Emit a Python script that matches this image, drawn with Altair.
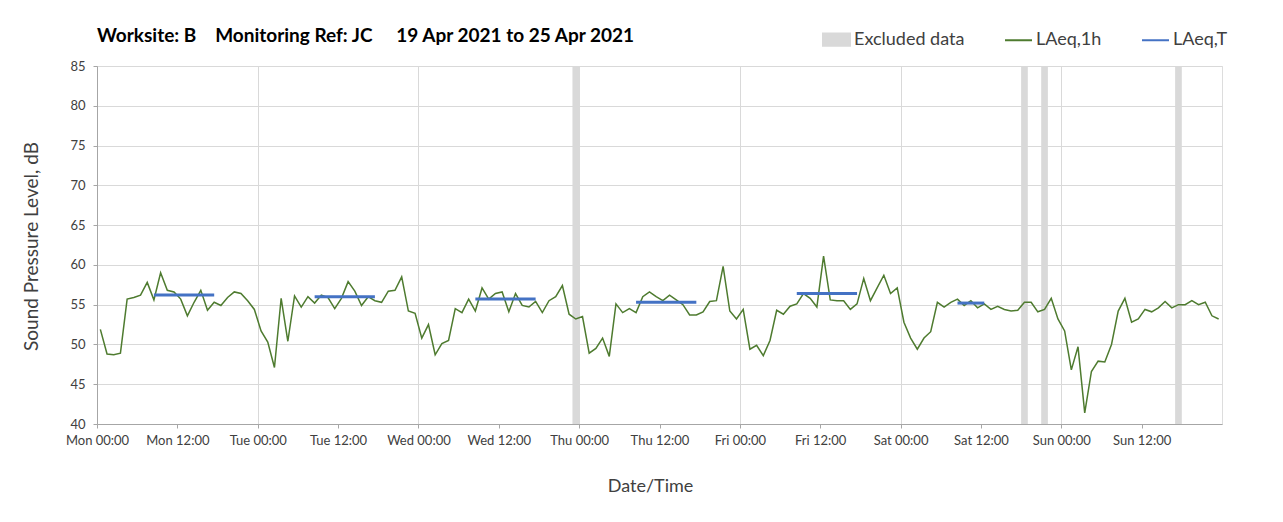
import altair as alt
import pandas as pd

# ---------------- data ----------------
mon = [51.9, 48.8, 48.7, 48.9, 55.7, 55.9, 56.2, 57.8, 55.6, 59.0, 56.8, 56.6,
       55.7, 53.6, 55.3, 56.8, 54.3, 55.3, 54.9, 55.9, 56.6, 56.4, 55.5, 54.4]
tue = [51.7, 50.3, 47.1, 55.8, 50.4, 56.1, 54.7, 56.0, 55.2, 56.2, 55.9, 54.5,
       55.8, 57.9, 56.7, 54.9, 56.0, 55.5, 55.3, 56.7, 56.8, 58.5, 54.2, 53.9]
wed = [50.8, 52.5, 48.7, 50.1, 50.5, 54.5, 54.0, 55.7, 54.2, 57.1, 55.7, 56.4,
       56.6, 54.1, 56.4, 54.9, 54.7, 55.4, 54.0, 55.5, 56.0, 57.4, 53.8, 53.2]
thu = [53.5, 48.9, 49.5, 50.8, 48.5, 55.1, 54.0, 54.5, 54.0, 56.0, 56.6, 56.0,
       55.5, 56.2, 55.6, 55.0, 53.7, 53.7, 54.1, 55.4, 55.5, 59.8, 54.2, 53.2]
fri = [54.4, 49.4, 49.9, 48.6, 50.5, 54.3, 53.8, 54.8, 55.1, 56.4, 55.8, 54.7,
       61.1, 55.6, 55.5, 55.5, 54.4, 55.1, 58.3, 55.5, 57.1, 58.7, 56.4, 57.1]
sat = [52.8, 50.8, 49.4, 50.8, 51.6, 55.3, 54.7, 55.3, 55.7, 54.9, 55.5, 54.6,
       55.1, 54.4, 54.8, 54.4, 54.2, 54.3, 55.3, 55.3, 54.1, 54.4, 55.8, 53.2]
sun = [51.7, 46.8, 49.7, 41.4, 46.6, 47.9, 47.8, 50.0, 54.2, 55.8, 52.8, 53.2,
       54.4, 54.1, 54.6, 55.4, 54.6, 55.0, 55.0, 55.5, 55.0, 55.3, 53.6, 53.2]

day_dates = ["2021-04-19", "2021-04-20", "2021-04-21", "2021-04-22",
             "2021-04-23", "2021-04-24", "2021-04-25"]

# excluded-data periods (hour windows)
excluded_start = ["2021-04-21T23:00:00", "2021-04-24T18:00:00",
                  "2021-04-24T21:00:00", "2021-04-25T17:00:00"]
excluded_end = ["2021-04-22T00:00:00", "2021-04-24T19:00:00",
                "2021-04-24T22:00:00", "2021-04-25T18:00:00"]

# LAeq,T periods (plotted at hour mid-points of first/last hour)
laeqT_start = ["2021-04-19T08:30:00", "2021-04-20T08:30:00", "2021-04-21T08:30:00",
               "2021-04-22T08:30:00", "2021-04-23T08:30:00", "2021-04-24T08:30:00"]
laeqT_end = ["2021-04-19T17:30:00", "2021-04-20T17:30:00", "2021-04-21T17:30:00",
             "2021-04-22T17:30:00", "2021-04-23T17:30:00", "2021-04-24T12:30:00"]
laeqT_value = [56.2, 56.0, 55.7, 55.3, 56.4, 55.2]

series_names = ["Excluded data", "LAeq,1h", "LAeq,T"]
series_colors = ["#d9d9d9", "#4e7b2f", "#4472c4"]
legend_fills = ["#d9d9d9", "transparent", "transparent"]
legend_shapes = ["M-1,-0.46H1V0.46H-1Z", "stroke", "stroke"]

title_text = "Worksite: B\u2003 Monitoring Ref: JC\u2003\u2005 19 Apr 2021 to 25 Apr 2021"

# ---------------- tables ----------------
hourly_vals = mon + tue + wed + thu + fri + sat + sun
hourly_times = [f"{d}T{h:02d}:30:00" for d in day_dates for h in range(24)]
hourly = pd.DataFrame({"time": hourly_times, "value": hourly_vals, "series": "LAeq,1h"})
excl = pd.DataFrame({"start": excluded_start, "end": excluded_end, "series": "Excluded data"})
laeqT = pd.DataFrame({"start": laeqT_start, "end": laeqT_end, "value": laeqT_value,
                      "series": "LAeq,T"})
legend_df = pd.DataFrame({"series": series_names})

FONT = "Lato"
TXT = "#404040"

tick_values = [alt.DateTime(year=2021, month=4, date=19 + d, hours=h)
               for d in range(7) for h in (0, 12)]

x_scale = alt.Scale(domain=[alt.DateTime(year=2021, month=4, date=19, hours=0),
                            alt.DateTime(year=2021, month=4, date=26, hours=0)],
                    nice=False)
x_axis = alt.Axis(values=tick_values, format="%a %H:%M", title="Date/Time",
                  labelFontSize=13, labelFont=FONT, labelColor=TXT,
                  labelFlush=False, labelOverlap=False,
                  titleFont=FONT, titleFontSize=18, titleFontWeight="normal",
                  titleColor=TXT, titlePadding=30, titleX=553,
                  tickSize=4, tickColor="#a6a6a6", domainColor="#a6a6a6",
                  labelPadding=6, grid=True, gridColor="#d9d9d9",
                  gridOpacity={"condition": {"test": "hours(datum.value) === 12", "value": 0},
                               "value": 1})

y_scale = alt.Scale(domain=[40, 85], nice=False)
y_axis = alt.Axis(values=list(range(40, 90, 5)), title="Sound Pressure Level, dB",
                  labelFontSize=13, labelFont=FONT, labelColor=TXT,
                  titleFont=FONT, titleFontSize=19, titleFontWeight="normal",
                  titleColor=TXT, titlePadding=28, titleY=180,
                  tickSize=4, tickColor="#a6a6a6", domainColor="#a6a6a6",
                  labelPadding=8, grid=True, gridColor="#d9d9d9")

legend = alt.Legend(
    title=None, orient="none", legendX=725, legendY=-41, direction="horizontal",
    symbolSize=729, symbolStrokeWidth=2, symbolOpacity=1,
    labelFontSize=18, labelFont=FONT, labelColor=TXT, labelOffset=3, columnPadding=36,
)

color = alt.Color("series:N", scale=alt.Scale(domain=series_names, range=series_colors),
                  legend=None)

bands = alt.Chart(excl).mark_rect(opacity=1).encode(
    x=alt.X("start:T", scale=x_scale, axis=x_axis),
    x2="end:T",
    color=color,
)

line = alt.Chart(hourly).mark_line(strokeWidth=1.5).encode(
    x=alt.X("time:T", scale=x_scale, axis=x_axis),
    y=alt.Y("value:Q", scale=y_scale, axis=y_axis),
    color=color,
)

rules = alt.Chart(laeqT).mark_rule(strokeWidth=3).encode(
    x=alt.X("start:T", scale=x_scale, axis=x_axis),
    x2="end:T",
    y=alt.Y("value:Q", scale=y_scale, axis=y_axis),
    color=color,
)

# invisible layer that only carries the legend (swatch for bands, strokes for lines)
legend_layer = alt.Chart(legend_df).mark_point(opacity=0, filled=True).encode(
    fill=alt.Fill("series:N", scale=alt.Scale(domain=series_names, range=legend_fills),
                  legend=legend),
    stroke=alt.Stroke("series:N", scale=alt.Scale(domain=series_names, range=series_colors),
                      legend=legend),
    shape=alt.Shape("series:N", scale=alt.Scale(domain=series_names, range=legend_shapes),
                    legend=legend),
)

chart = alt.layer(bands, line, rules, legend_layer).properties(
    width=1125, height=358,
    title=alt.TitleParams(title_text, anchor="start", frame="group", font=FONT,
                          fontSize=19, fontWeight="bold", color="#000000",
                          baseline="alphabetic", offset=24, dy=60),
    autosize=alt.AutoSizeParams(type="none"),
    padding={"left": 89, "top": 58, "right": 45, "bottom": 80},
).resolve_scale(color="independent").configure_view(
    stroke="#b3b3b3", strokeWidth=1
).configure(background="white")

chart.save("out.html", embed_options={"renderer": "svg", "actions": False})
